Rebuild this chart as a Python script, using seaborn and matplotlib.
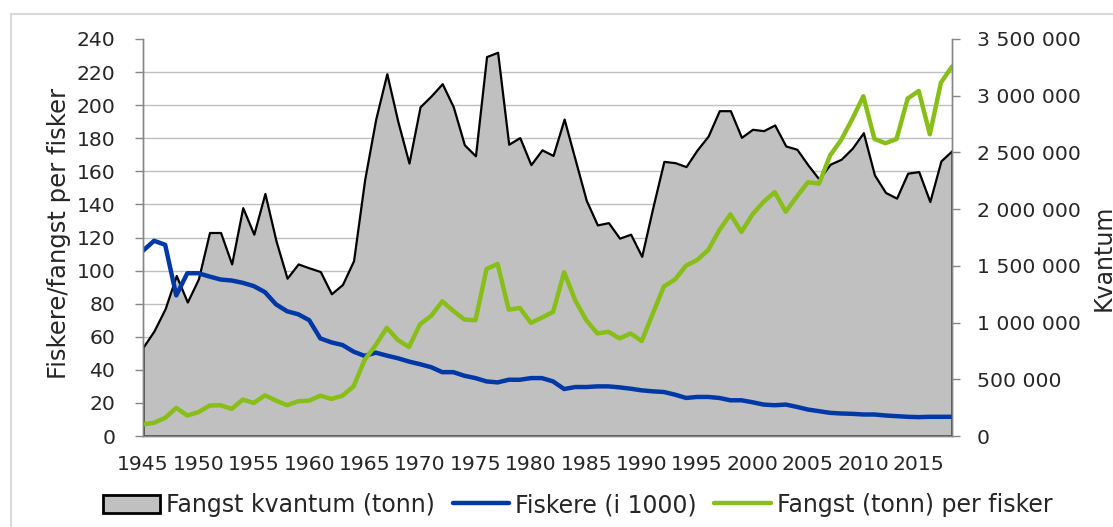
import numpy as np
import matplotlib
matplotlib.use("Agg")
import matplotlib.pyplot as plt
from matplotlib.patches import Patch, Rectangle
from matplotlib.lines import Line2D
from matplotlib.ticker import FuncFormatter, MultipleLocator
import seaborn as sns

# Data, 1945-2018
years = np.arange(1945, 2019)

kvantum = [782000, 928000, 1123000, 1415000, 1181000, 1385000, 1794000, 1794000, 1517000, 2013000,
           1779000, 2138000, 1721000, 1391000, 1517000, 1482000, 1450000, 1254000, 1336000, 1546000,
           2260000, 2794000, 3194000, 2771000, 2406000, 2902000, 2998000, 3106000, 2902000, 2567000,
           2470000, 3345000, 3383000, 2572000, 2631000, 2392000, 2523000, 2473000, 2794000, 2435000,
           2077000, 1861000, 1881000, 1744000, 1779000, 1584000, 2013000, 2421000, 2410000, 2375000,
           2522000, 2645000, 2868000, 2868000, 2633000, 2704000, 2692000, 2742000, 2557000, 2528000,
           2390000, 2264000, 2396000, 2440000, 2537000, 2674000, 2302000, 2147000, 2097000, 2317000,
           2331000, 2067000, 2425000, 2516000]

fiskere = [112, 118, 115.6, 85, 98.4, 98.4, 96.4, 94.6, 94, 92.6,
           90.6, 87, 79.6, 75.4, 73.6, 70, 59, 56.6, 55, 51,
           48.4, 50.4, 48.6, 47, 45, 43.4, 41.6, 38.6, 38.6, 36.4,
           35, 33, 32.4, 34, 34, 35, 35, 33, 28.4, 29.6,
           29.6, 30, 30, 29.4, 28.6, 27.6, 27, 26.6, 25, 23,
           23.6, 23.6, 23, 21.6, 21.6, 20.4, 19, 18.6, 19, 17.6,
           16, 15, 14, 13.6, 13.4, 13, 13, 12.4, 12, 11.6,
           11.4, 11.6, 11.6, 11.6]

per_fisker = [7, 8, 11, 17, 12.4, 14.4, 18.4, 18.6, 16.4, 22,
              20, 24.6, 21.4, 18.6, 21, 21.4, 24.4, 22.4, 24.4, 30,
              46, 55, 65.4, 58, 53.8, 67.6, 72.6, 81.4, 75.6, 70.4,
              70, 101, 104, 76.4, 77.4, 68.4, 71.6, 75, 99, 82,
              70, 62, 63, 59, 62, 57.4, 74, 90.4, 94.6, 103,
              106.4, 112.4, 124.4, 134, 123.4, 134, 141.6, 147.4, 135.6, 144.8,
              153.4, 152.6, 169.6, 179, 191.6, 205.4, 179.6, 177, 179.6, 204,
              208.6, 182.4, 213.6, 223.4]

year_labels = [str(y) if y % 5 == 0 else "" for y in years]

sns.set_style("white")
plt.rcParams["font.family"] = ["DejaVu Sans"]
fs = 14.7
grey = "#868686"
blue = "#0038A8"
green = "#88BE18"
area_grey = "#C0C0C0"

fig = plt.figure(figsize=(11.13, 5.27), dpi=100)
fig.patches.append(Rectangle((11 / 1113, -0.1), 1.2, 1 - 14 / 527 + 0.1,
                             transform=fig.transFigure, fill=False,
                             edgecolor="#D9D9D9", linewidth=1.5))

ax_area = fig.add_axes([143 / 1113, 1 - 436 / 527, (952 - 143) / 1113, (436 - 39) / 527])
ax_lines = ax_area.twinx()

# area (kvantum) on the right-hand scale
ax_area.fill_between(years, kvantum, color=area_grey, edgecolor="black", linewidth=1.6)
ax_area.set_ylim(0, 3500000)
ax_area.set_xlim(1945, 2018)
ax_area.yaxis.tick_right()
ax_area.yaxis.set_label_position("right")
ax_area.yaxis.set_major_locator(MultipleLocator(500000))
ax_area.yaxis.set_major_formatter(FuncFormatter(lambda v, p: f"{int(v):,}".replace(",", " ")))
# gridlines follow the left axis steps (20 units)
ax_area.set_yticks(np.linspace(0, 3500000, 13), minor=True)
ax_area.grid(which="minor", axis="y", color="#BFBFBF", linewidth=1.0)
ax_area.grid(which="major", visible=False)
ax_area.set_axisbelow(True)
ax_area.tick_params(axis="y", which="major", direction="out", length=6, width=1,
                    color=grey, labelsize=fs, pad=12)
ax_area.tick_params(axis="y", which="minor", length=0)
ax_area.set_ylabel("Kvantum", fontsize=17)
ax_area.yaxis.set_label_coords(1.172, 0.45)
ax_area.set_xticks(years)
ax_area.set_xticklabels(year_labels)
ax_area.tick_params(axis="x", direction="out", length=7, width=1, color=grey,
                    labelsize=fs, pad=7)

# lines on the left-hand scale
sns.lineplot(x=years, y=fiskere, ax=ax_lines, color=blue, linewidth=3.2, legend=False)
sns.lineplot(x=years, y=per_fisker, ax=ax_lines, color=green, linewidth=3.2, legend=False)
ax_lines.set_ylim(0, 240)
ax_lines.set_xlim(1945, 2018)
ax_lines.yaxis.tick_left()
ax_lines.yaxis.set_label_position("left")
ax_lines.yaxis.set_major_locator(MultipleLocator(20))
ax_lines.tick_params(axis="y", direction="out", length=6, width=1, color=grey,
                     labelsize=fs, pad=14)
ax_lines.set_ylabel("Fiskere/fangst per fisker", fontsize=17.5)
ax_lines.yaxis.set_label_coords(-0.089, 0.51)

for a in (ax_area, ax_lines):
    for side in ("left", "right", "bottom"):
        a.spines[side].set_color(grey)
        a.spines[side].set_linewidth(1)
    a.spines["top"].set_visible(False)

handles = [Patch(facecolor=area_grey, edgecolor="black", linewidth=2),
           Line2D([0], [0], color=blue, linewidth=3.2),
           Line2D([0], [0], color=green, linewidth=3.2)]
labels = ["Fangst kvantum (tonn)", "Fiskere (i 1000)", "Fangst (tonn) per fisker"]
fig.legend(handles, labels, loc="center", bbox_to_anchor=(578 / 1113, 1 - 505 / 527),
           ncol=3, frameon=False, fontsize=17, handlelength=2.4, handleheight=0.8,
           handletextpad=0.25, columnspacing=0.75, borderpad=0)

fig.savefig("out.png", dpi=100)
